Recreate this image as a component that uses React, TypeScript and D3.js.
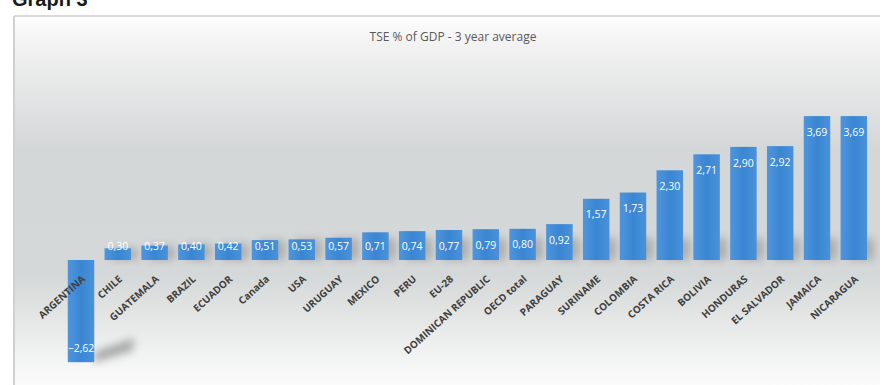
import React from "react";
import * as d3 from "d3";

const categories = [
  "ARGENTINA", "CHILE", "GUATEMALA", "BRAZIL", "ECUADOR", "Canada", "USA", "URUGUAY",
  "MEXICO", "PERU", "EU-28", "DOMINICAN REPUBLIC", "OECD total", "PARAGUAY", "SURINAME",
  "COLOMBIA", "COSTA RICA", "BOLIVIA", "HONDURAS", "EL SALVADOR", "JAMAICA", "NICARAGUA",
];
const values = [
  -2.62, 0.3, 0.37, 0.4, 0.42, 0.51, 0.53, 0.57, 0.71, 0.74, 0.77, 0.79, 0.8, 0.92, 1.57,
  1.73, 2.3, 2.71, 2.9, 2.92, 3.69, 3.69,
];
const title = "TSE % of GDP - 3 year average";
const pageHeading = "Graph 3";

const W = 880;
const H = 385;

export default function App() {
  const x = d3
    .scaleBand<string>()
    .domain(categories)
    .range([62.6, 872.2])
    .paddingInner(0.28)
    .paddingOuter(0.14);
  const y = d3.scaleLinear().domain([-3, 4]).range([377, 104]);
  const y0 = y(0);
  const fmt = d3.format(".2f");
  const bw = x.bandwidth();

  return (
    <svg
      width={W}
      height={H}
      style={{ position: "absolute", left: 0, top: 0, display: "block" }}
      fontFamily="'Open Sans', 'Noto Sans', sans-serif"
    >
      <defs>
        <linearGradient id="bg" x1="0" y1="16" x2="0" y2="385" gradientUnits="userSpaceOnUse">
          <stop offset="0" stopColor="#ffffff" />
          <stop offset="0.07" stopColor="#f3f3f3" />
          <stop offset="0.36" stopColor="#d4d7d8" />
          <stop offset="0.70" stopColor="#d5d8d8" />
          <stop offset="0.97" stopColor="#f8f8f8" />
          <stop offset="1" stopColor="#fbfbfb" />
        </linearGradient>
        <linearGradient id="barg" x1="0" y1="0" x2="1" y2="0">
          <stop offset="0" stopColor="#4f95dc" />
          <stop offset="0.5" stopColor="#3a86d3" />
          <stop offset="1" stopColor="#4a92da" />
        </linearGradient>
        <filter id="blur" x="-50%" y="-50%" width="200%" height="200%">
          <feGaussianBlur stdDeviation="4" />
        </filter>
      </defs>
      <rect x={0} y={0} width={W} height={H} fill="#ffffff" />
      <text x={12} y={6} fontFamily="'Liberation Sans', Arial, sans-serif" fontWeight="bold" fontSize={20} fill="#1a1a1a">
        {pageHeading}
      </text>
      <rect x={14} y={16} width={W - 14} height={H - 16} fill="url(#bg)" />
      <line x1={14} y1={16} x2={W} y2={16} stroke="#d9d9d9" strokeWidth={2} />
      <line x1={14} y1={16} x2={14} y2={H} stroke="#d0d0d0" strokeWidth={2} />
      <text x={453} y={41} textAnchor="middle" fontSize={12} fill="#595959">
        {title}
      </text>

      {/* shadows */}
      {categories.map((c, i) => {
        const v = values[i];
        const bx = x(c)!;
        if (v >= 0) {
          const h = Math.min(22, y0 - y(v));
          return (
            <rect key={"s" + c} x={bx + 7} y={y0 - h} width={bw} height={h} fill="#7a7a7a" opacity={0.45} filter="url(#blur)" />
          );
        }
        const by = y(v);
        return (
          <polygon
            key={"s" + c}
            points={`${bx + bw},${by - 10} ${bx + bw + 40},${by - 24} ${bx + bw + 38},${by - 12} ${bx + bw},${by}`}
            fill="#6f6f6f"
            opacity={0.6}
            filter="url(#blur)"
          />
        );
      })}

      {/* bars */}
      {categories.map((c, i) => {
        const v = values[i];
        const top = Math.min(y(v), y0);
        const h = Math.abs(y(v) - y0);
        return <rect key={"b" + c} x={x(c)} y={top} width={bw} height={h} fill="url(#barg)" />;
      })}

      {/* category labels */}
      {categories.map((c) => {
        const cx = x(c)! + bw / 2 + 5;
        const cy = 280;
        return (
          <text
            key={"l" + c}
            x={cx}
            y={cy}
            textAnchor="end"
            fontSize={10}
            fontWeight="bold"
            fill="#404040"
            transform={`rotate(-42 ${cx} ${cy})`}
          >
            {c}
          </text>
        );
      })}

      {/* value labels */}
      {categories.map((c, i) => {
        const v = values[i];
        const cx = x(c)! + bw / 2;
        const mid = v >= 0 ? Math.min(y(v) + 16, 246) : y(v) - 14;
        return (
          <text
            key={"v" + c}
            x={cx}
            y={mid}
            dy="0.35em"
            textAnchor="middle"
            fontSize={10.5}
            fill="#ffffff"
          >
            {fmt(v).replace(".", ",")}
          </text>
        );
      })}
    </svg>
  );
}
